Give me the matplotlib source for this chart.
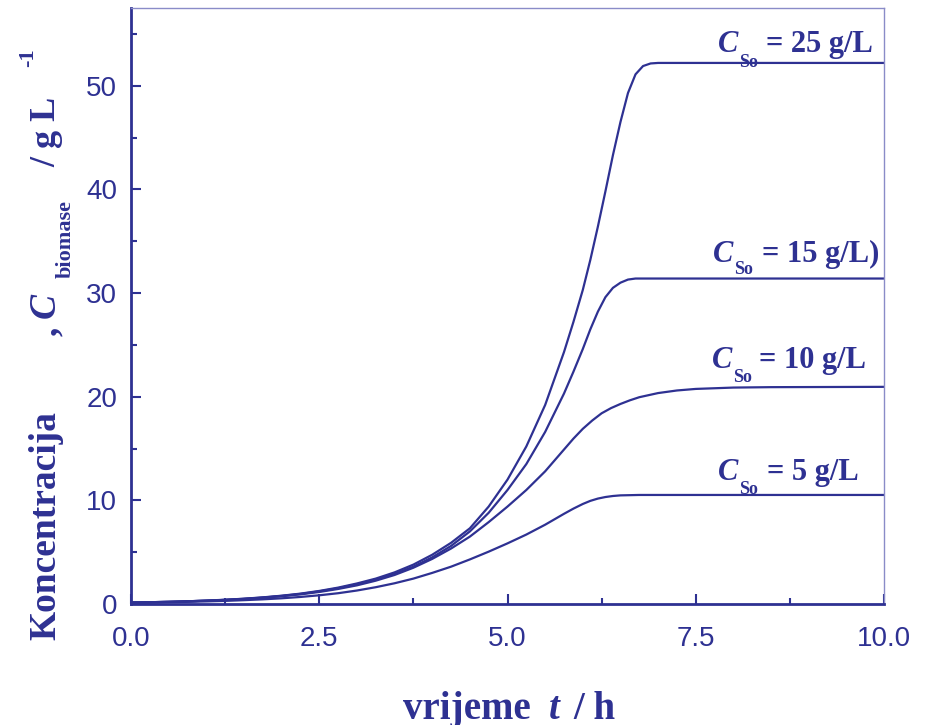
import matplotlib
matplotlib.use("Agg")
import matplotlib.pyplot as plt
from matplotlib.ticker import MultipleLocator

# ---- data ----
t_25 = [0.0, 0.25, 0.5, 0.75, 1.0, 1.25, 1.5, 1.75, 2.0, 2.25, 2.5, 2.75, 3.0, 3.25, 3.5,
        3.75, 4.0, 4.25, 4.5, 4.75, 5.0, 5.25, 5.5, 5.75, 5.875, 6.0, 6.1, 6.2, 6.3, 6.4, 6.5,
        6.6, 6.7, 6.8, 6.9, 7.0, 8.0, 10.0]
x_25 = [0.14, 0.17, 0.21, 0.26, 0.33, 0.41, 0.51, 0.64, 0.80, 1.0, 1.26, 1.58, 1.98, 2.45, 3.05,
        3.8, 4.75, 5.9, 7.3, 9.4, 12.0, 15.2, 19.2, 24.3, 27.2, 30.3, 33.2, 36.4, 39.8, 43.3, 46.5,
        49.3, 51.1, 51.9, 52.15, 52.2, 52.2, 52.2]

t_15 = [0.0, 0.25, 0.5, 0.75, 1.0, 1.25, 1.5, 1.75, 2.0, 2.25, 2.5, 2.75, 3.0, 3.25, 3.5,
        3.75, 4.0, 4.25, 4.5, 4.75, 5.0, 5.25, 5.5, 5.75, 5.875, 6.0, 6.1, 6.2, 6.3, 6.4, 6.5,
        6.6, 6.7, 8.0, 10.0]
x_15 = [0.14, 0.17, 0.21, 0.26, 0.32, 0.40, 0.50, 0.62, 0.78, 0.97, 1.22, 1.52, 1.9, 2.35, 2.9,
        3.6, 4.5, 5.6, 7.0, 8.8, 11.0, 13.5, 16.6, 20.3, 22.4, 24.6, 26.5, 28.2, 29.6, 30.5, 31.0,
        31.3, 31.4, 31.4, 31.4]

t_10 = [0.0, 0.25, 0.5, 0.75, 1.0, 1.25, 1.5, 1.75, 2.0, 2.25, 2.5, 2.75, 3.0, 3.25, 3.5,
        3.75, 4.0, 4.25, 4.5, 4.75, 5.0, 5.25, 5.5, 5.75, 5.875, 6.0, 6.125, 6.25, 6.375, 6.5,
        6.625, 6.75, 7.0, 7.25, 7.5, 8.0, 8.5, 10.0]
x_10 = [0.14, 0.17, 0.21, 0.26, 0.32, 0.39, 0.48, 0.6, 0.75, 0.93, 1.16, 1.45, 1.8, 2.25, 2.8,
        3.5, 4.35, 5.35, 6.5, 7.9, 9.4, 11.0, 12.8, 14.9, 15.95, 16.9, 17.7, 18.4, 18.9, 19.3,
        19.65, 19.95, 20.35, 20.6, 20.75, 20.88, 20.92, 20.95]

t_5 = [0.0, 0.25, 0.5, 0.75, 1.0, 1.25, 1.5, 1.75, 2.0, 2.25, 2.5, 2.75, 3.0, 3.25, 3.5,
       3.75, 4.0, 4.25, 4.5, 4.75, 5.0, 5.25, 5.5, 5.75, 5.875, 6.0, 6.1, 6.2, 6.3, 6.4, 6.5,
       6.75, 8.0, 10.0]
x_5 = [0.12, 0.14, 0.17, 0.21, 0.25, 0.30, 0.37, 0.45, 0.55, 0.68, 0.84, 1.04, 1.3, 1.62, 2.0,
       2.45, 3.0, 3.6, 4.3, 5.05, 5.85, 6.7, 7.65, 8.7, 9.2, 9.65, 9.95, 10.17, 10.32, 10.42, 10.48,
       10.52, 10.52, 10.52]

series = [(t_25, x_25), (t_15, x_15), (t_10, x_10), (t_5, x_5)]
label_vals = ["= 25 g/L", "= 15 g/L)", "= 10 g/L", "= 5 g/L"]
x_ticks = [0.0, 2.5, 5.0, 7.5, 10.0]
y_ticks = [0, 10, 20, 30, 40, 50]

BLUE = "#2E3192"
LIGHT = "#8A8CC8"
SERIF = "Liberation Serif"
SANS = "Liberation Sans"

W, H = 926, 725
fig = plt.figure(figsize=(W / 100, H / 100), dpi=100)
ax = fig.add_axes([131 / W, 1 - 604 / H, (884 - 131) / W, (604 - 8) / H])

for t, x in series:
    ax.plot(t, x, color=BLUE, lw=1.6, solid_capstyle="round", solid_joinstyle="round")

ax.set_xlim(0, 10)
ax.set_ylim(0, 57.5)
ax.set_xticks(x_ticks)
ax.set_xticklabels([f"{v:.1f}" for v in x_ticks])
ax.set_yticks(y_ticks)
ax.set_yticklabels([str(v) for v in y_ticks])
ax.xaxis.set_minor_locator(MultipleLocator(1.25))
ax.yaxis.set_minor_locator(MultipleLocator(5))

for s in ("left", "bottom"):
    ax.spines[s].set_color(BLUE)
    ax.spines[s].set_linewidth(2.0)
for s in ("top", "right"):
    ax.spines[s].set_color(LIGHT)
    ax.spines[s].set_linewidth(1.0)

ax.tick_params(which="major", direction="in", length=7, width=1.5, color=BLUE,
               labelcolor=BLUE, labelsize=20, top=False, right=False)
ax.tick_params(which="minor", direction="in", length=4, width=1.5, color=BLUE,
               top=False, right=False)
ax.tick_params(axis="x", which="major", pad=16)
ax.tick_params(axis="y", which="major", pad=10)
for lab in ax.get_xticklabels() + ax.get_yticklabels():
    lab.set_fontfamily(SANS)

# curve labels  (pixel positions converted to data coords)
def px2d(px, py):
    return (px - 131) / 75.3, (604 - py) / 10.36

label_pos = [  # (C left, C baseline, sub left, sub baseline, rest left)
    (718, 52, 739, 67, 766),
    (713, 262, 734, 274, 762),
    (712, 368, 733, 382, 759),
    (718, 480, 739, 494, 767),
]
for (cx, cy, sx, sy, rx), txt in zip(label_pos, label_vals):
    ax.text(*px2d(cx, cy), "C", family=SERIF, weight="bold", style="italic",
            fontsize=22, color=BLUE, va="baseline", ha="left")
    ax.text(*px2d(sx, sy), "So", family=SERIF, weight="bold",
            fontsize=13, color=BLUE, va="baseline", ha="left")
    ax.text(*px2d(rx, cy), txt, family=SERIF, weight="bold",
            fontsize=22, color=BLUE, va="baseline", ha="left")

# figure-level text helper in pixel coords
def ftxt(px, py, s, size, rot=0, style="normal"):
    fig.text(px / W, 1 - py / H, s, family=SERIF, weight="bold", style=style,
             fontsize=size, color=BLUE, rotation=rot, rotation_mode="anchor",
             ha="left", va="baseline")

# y label pieces (rotated)
ftxt(55, 640, "Koncentracija", 27, 90)
ftxt(57, 336, ",", 27, 90)
ftxt(55, 318, "C", 27, 90, "italic")
ftxt(71, 278, "biomase", 16, 90)
ftxt(55, 167, "/ g L", 26, 90)
ftxt(33, 67, "-1", 16, 90)

# x label pieces
ftxt(403, 719, "vrijeme", 28)
ftxt(549, 719, "t", 28, 0, "italic")
ftxt(573, 719, "/ h", 28)

fig.savefig("out.png", dpi=100)
